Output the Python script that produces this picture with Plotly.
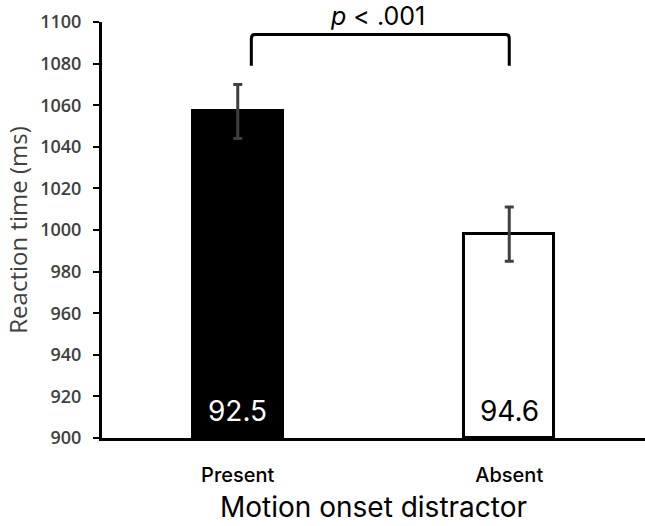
import plotly.graph_objects as go

categories = ["Present", "Absent"]
rt_means = [1057, 998]
rt_errors = [13, 13]
accuracy_labels = ["92.5", "94.6"]
bar_fills = ["black", "white"]
label_colors = ["white", "black"]
y_ticks = list(range(900, 1101, 20))
p_text = "<i>p</i> < .001"

fig = go.Figure()
fig.add_trace(go.Bar(
    x=categories, y=[m - 900 for m in rt_means], base=900,
    width=0.33,
    marker=dict(color=bar_fills, line=dict(color="black", width=3)),
    error_y=dict(type="data", array=rt_errors, color="#404040", thickness=3, width=4.5),
    hoverinfo="skip",
))

for cat, lab, col in zip(categories, accuracy_labels, label_colors):
    fig.add_annotation(x=cat, y=900, yref="y", text=lab, showarrow=False,
                       yanchor="middle", yshift=27,
                       font=dict(family="Inter", size=28, color=col))

# significance bracket
x0, x1 = 0.05, 1.0
ylo, yhi = 1079, 1094
r = 0.012
fig.add_shape(type="path", xref="x", yref="y",
              path=f"M {x0},{ylo} L {x0},{yhi-2} Q {x0},{yhi} {x0+r},{yhi} L {x1-r},{yhi} Q {x1},{yhi} {x1},{yhi-2} L {x1},{ylo}",
              line=dict(color="black", width=3))
fig.add_annotation(x=(x0 + x1) / 2 - 0.01, y=1.0, xref="x", yref="paper", text=p_text,
                   showarrow=False, yanchor="middle", yshift=6,
                   font=dict(family="Inter", size=25, color="black"))

fig.update_layout(
    width=645, height=526,
    margin=dict(l=102, r=0, t=22, b=88),
    plot_bgcolor="white", paper_bgcolor="white",
    showlegend=False,
    bargap=0,
)
fig.update_xaxes(
    range=[-0.5, 1.5], showline=True, linecolor="black", linewidth=3,
    showgrid=False, ticks="", ticklabelstandoff=17,
    tickfont=dict(family="Inter", size=20, color="black", weight=500),
    title=dict(text="Motion onset distractor", standoff=12,
               font=dict(family="Inter", size=28, color="black")),
)
fig.update_yaxes(
    range=[900, 1100], tickvals=y_ticks, showline=True, linecolor="black", linewidth=3,
    showgrid=False, zeroline=False, ticks="outside", ticklen=6, tickwidth=2, tickcolor="black",
    ticklabelstandoff=8,
    tickfont=dict(family="Open Sans", size=18, color="#404040", weight=600),
    title=dict(text="Reaction time (ms)", standoff=6,
               font=dict(family="Open Sans", size=24, color="#404040")),
)

fig.write_html("out.html")
